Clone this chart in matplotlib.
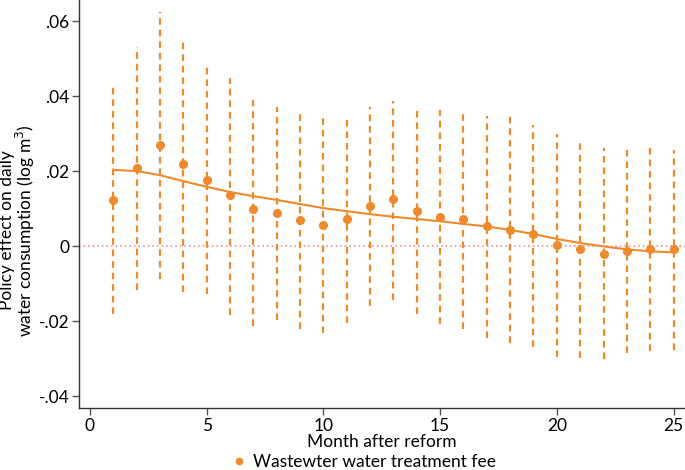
import numpy as np
import matplotlib
matplotlib.use('Agg')
import matplotlib.pyplot as plt

plt.rcParams['font.family'] = ['Lato', 'DejaVu Sans']

ORANGE = '#EE8A2C'
ZERO_RED = '#F07F86'

# Month after reform
months = list(range(1, 26))
# Point estimates
coef = [0.0123, 0.0209, 0.0269, 0.0219, 0.0177, 0.0136, 0.0098, 0.0088, 0.0070, 0.0055,
        0.0072, 0.0107, 0.0125, 0.0093, 0.0077, 0.0071, 0.0054, 0.0043, 0.0031, 0.0003,
        -0.0009, -0.0021, -0.0014, -0.0008, -0.0007]
# Confidence interval bounds
ci_hi = [0.0423, 0.0530, 0.0623, 0.0549, 0.0482, 0.0449, 0.0398, 0.0372, 0.0354, 0.0341,
         0.0347, 0.0370, 0.0387, 0.0365, 0.0363, 0.0363, 0.0347, 0.0343, 0.0323, 0.0299,
         0.0274, 0.0261, 0.0258, 0.0265, 0.0256]
ci_lo = [-0.0182, -0.0116, -0.0089, -0.0122, -0.0128, -0.0184, -0.0213, -0.0198, -0.0220, -0.0231,
         -0.0204, -0.0160, -0.0144, -0.0180, -0.0208, -0.0222, -0.0245, -0.0258, -0.0268, -0.0295,
         -0.0298, -0.0302, -0.0285, -0.0279, -0.0277]
# Smoothed fit
fit = [0.0203, 0.0200, 0.0189, 0.0173, 0.0158, 0.0144, 0.0133, 0.0123, 0.0112, 0.0101,
       0.0093, 0.0085, 0.0078, 0.0072, 0.0066, 0.0059, 0.0052, 0.0043, 0.0032, 0.0019,
       0.0008, -0.0001, -0.0009, -0.0014, -0.0017]

yticks = [-0.04, -0.02, 0, 0.02, 0.04, 0.06]
ytick_labels = ['-.04', '-.02', '0', '.02', '.04', '.06']
xticks = [0, 5, 10, 15, 20, 25]

fig = plt.figure(figsize=(6.85, 4.7), dpi=100)
ax = fig.add_axes([0.1153, 0.1319, 0.884, 0.868])

ax.axhline(0, color=ZERO_RED, linestyle=(0, (1, 2)), linewidth=1.1, zorder=1)
ax.vlines(months, ci_lo, ci_hi, colors=ORANGE, linestyles=(0, (3, 2.2)), linewidth=1.6, zorder=2)
ax.plot(months, fit, color=ORANGE, linewidth=1.5, zorder=3)
ax.plot(months, coef, 'o', color=ORANGE, markersize=5.5, zorder=4,
        label='Wastewter water treatment fee')

ax.set_xlim(-0.47, 25.47)
ax.set_ylim(-0.0432, 0.0656)
ax.set_xticks(xticks)
ax.set_yticks(yticks)
ax.set_yticklabels(ytick_labels)

for s in ['top', 'right']:
    ax.spines[s].set_visible(False)
for s in ['left', 'bottom']:
    ax.spines[s].set_color('#333333')
    ax.spines[s].set_linewidth(1.0)
ax.tick_params(direction='out', length=5, width=1, color='#555555', labelsize=12.5, pad=2)

ax.set_xlabel('Month after reform', fontsize=12.5, labelpad=0)
fig.text(0.026, 0.51, 'Policy effect on daily\nwater consumption (log m$^3$)', fontsize=12.5,
         rotation=90, ha='center', va='center', linespacing=0.95)

fig.legend(loc='center', bbox_to_anchor=(0.53, 0.016), frameon=False, fontsize=12.5,
           handletextpad=0.3, markerscale=0.8, handlelength=1.0, borderpad=0)

fig.savefig('out.png', dpi=100)
